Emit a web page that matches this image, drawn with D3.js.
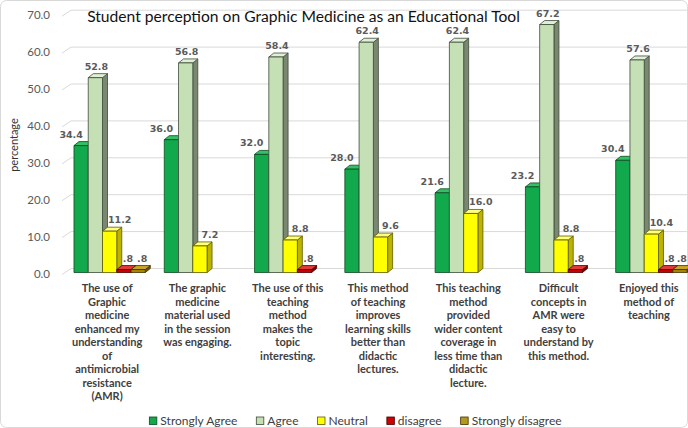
<!DOCTYPE html>
<html><head><meta charset="utf-8">
<script src="https://cdn.jsdelivr.net/npm/d3@7"></script>
<style>body{margin:0;background:#fff}svg{display:block}</style>
</head><body><svg id="c" width="688" height="428"></svg>
<script>
const categories = [
  "The use of Graphic medicine enhanced my understanding of antimicrobial resistance (AMR)",
  "The graphic medicine material used in the session was engaging.",
  "The use of this teaching method makes the topic interesting.",
  "This method of teaching improves learning skills better than didactic lectures.",
  "This teaching method provided wider content coverage in less time than didactic lecture.",
  "Difficult concepts in AMR were easy to understand by this method.",
  "Enjoyed this method of teaching"
];
const categoryLines = [
  ["The use of","Graphic","medicine","enhanced my","understanding","of","antimicrobial","resistance","(AMR)"],
  ["The graphic","medicine","material used","in the session","was engaging."],
  ["The use of this","teaching","method","makes the","topic","interesting."],
  ["This method","of teaching","improves","learning skills","better than","didactic","lectures."],
  ["This teaching","method","provided","wider content","coverage in","less time than","didactic","lecture."],
  ["Difficult","concepts in","AMR were","easy to","understand by","this method."],
  ["Enjoyed this","method of","teaching"]
];
const seriesNames = ["Strongly Agree","Agree","Neutral","disagree","Strongly disagree"];
const stronglyAgree    = [34.4, 36.0, 32.0, 28.0, 21.6, 23.2, 30.4];
const agree            = [52.8, 56.8, 58.4, 62.4, 62.4, 67.2, 57.6];
const neutral          = [11.2, 7.2, 8.8, 9.6, 16.0, 8.8, 10.4];
const disagree         = [0.8, 0, 0.8, 0, 0, 0.8, 0.8];
const stronglyDisagree = [0.8, 0, 0, 0, 0, 0, 0.8];
const yTicks = [0, 10, 20, 30, 40, 50, 60, 70];
const title = "Student perception on Graphic Medicine as an Educational Tool";
const yTitle = "percentage";

const seriesValues = [stronglyAgree, agree, neutral, disagree, stronglyDisagree];
const styles = [
  {front:"#12a84c", side:"#087030", top:"#34c064", stroke:"#0b4a22", legend:"#12a84c", lx:-10},
  {front:"#c6e0b6", side:"#7a8872", top:"#dff0d6", stroke:"#3c4a38", legend:"#c6e0b6", lx:1},
  {front:"#ffff00", side:"#bdb400", top:"#ffff80", stroke:"#5e5a00", legend:"#ffff00", lx:10},
  {front:"#cc0000", side:"#7a0000", top:"#e23a3a", stroke:"#4a0000", legend:"#cc0000", lx:4},
  {front:"#a88600", side:"#6a5400", top:"#c9a428", stroke:"#403200", legend:"#b39a1c", lx:4}
];

const svg = d3.select("#c");
const W = 688, H = 428;
const DX = 5, DY = -4;

svg.append("rect").attr("x",0.5).attr("y",0.5).attr("width",W-1).attr("height",H-1)
  .attr("rx",6).attr("fill","#fff").attr("stroke","#d9d9d9");

const y = d3.scaleLinear().domain([0,70]).range([272.5, 14.2]);
const x0 = d3.scaleBand().domain(categories).range([64.5, 696.5]).paddingInner(0.21).paddingOuter(0.105);
const x1 = d3.scaleBand().domain(seriesNames).range([0, x0.bandwidth()]);

// gridlines (back wall + floor diagonal)
const grid = svg.append("g");
yTicks.forEach(t => {
  const yf = y(t);
  grid.append("path")
    .attr("d", `M62,${yf+2}L71,${yf-4}L688,${yf-4}`)
    .attr("fill","none").attr("stroke","#d9d9d9").attr("stroke-width",1);
});

// y axis labels
const yAxis = d3.axisLeft(y).tickValues(yTicks).tickFormat(d3.format(".1f")).tickSize(0).tickPadding(0);
const ya = svg.append("g").attr("transform","translate(50,1)").call(yAxis);
ya.select(".domain").remove();
ya.selectAll("text").attr("font-family","Lato, sans-serif").attr("font-size","11.5px").attr("fill","#595959");

svg.append("text").attr("transform","translate(13,145) rotate(-90)")
  .attr("text-anchor","middle").attr("dominant-baseline","central")
  .attr("font-family","Lato, sans-serif").attr("font-size","11px").attr("fill","#333").text(yTitle);

// bars
const fmt = v => { const s = d3.format(".1f")(v); return v < 1 ? s.replace(/^0/,"") : s; };
const bars = svg.append("g");
const labels = svg.append("g");
categories.forEach((c, ci) => {
  seriesNames.forEach((s, si) => {
    const v = seriesValues[si][ci];
    if (!v) return;
    const st = styles[si];
    const xa = x0(c) + x1(s), xb = xa + x1.bandwidth();
    const yt = y(v), yb = y(0);
    const g = bars.append("g").attr("stroke", st.stroke).attr("stroke-width",0.8).attr("stroke-linejoin","round");
    g.append("path").attr("fill", st.side)
      .attr("d", `M${xb},${yt}L${xb+DX},${yt+DY}L${xb+DX},${yb+DY}L${xb},${yb}Z`);
    g.append("path").attr("fill", st.top)
      .attr("d", `M${xa},${yt}L${xa+DX},${yt+DY}L${xb+DX},${yt+DY}L${xb},${yt}Z`);
    g.append("rect").attr("fill", st.front).attr("x", xa).attr("y", yt).attr("width", xb-xa).attr("height", yb-yt);
    const lt = labels.append("text")
      .attr("x", (xa+xb)/2 + st.lx).attr("y", yt - 11.5)
      .attr("text-anchor","middle").attr("dominant-baseline","central")
      .attr("font-family","DejaVu Sans, sans-serif").attr("font-weight","bold")
      .attr("font-size","9.5px").attr("fill","#5a5a5a").text(fmt(v));
    const hw = lt.node().getComputedTextLength()/2;
    const lxv = +lt.attr("x");
    if (lxv + hw > W - 1) lt.attr("x", W - 1 - hw);
  });
  // category label
  const cx = x0(c) + x0.bandwidth()/2 - 2.5;
  const t = svg.append("text").attr("text-anchor","middle")
    .attr("font-family","Lato, sans-serif").attr("font-weight","bold")
    .attr("font-size","11px").attr("fill","#404040");
  categoryLines[ci].forEach((ln, li) => {
    t.append("tspan").attr("x", cx).attr("y", 292 + li*13.5).text(ln);
  });
});

// title
const tt = svg.append("text").attr("x", 303.5).attr("y", 22).attr("text-anchor","middle")
  .attr("font-family","Lato, sans-serif").attr("font-weight","normal").attr("font-size","14px")
  .attr("fill","#111").text(title);
{
  const w = tt.node().getComputedTextLength();
  tt.attr("font-size", (14*433/w).toFixed(2)+"px");
}

// legend
const lg = svg.append("g");
let lx = 0;
seriesNames.forEach((s, si) => {
  const g = lg.append("g");
  g.append("rect").attr("x", lx).attr("y", -3.5).attr("width", 7.5).attr("height", 7.5)
    .attr("fill", styles[si].legend).attr("stroke", styles[si].stroke).attr("stroke-width",0.8);
  const tx = g.append("text").attr("x", lx + 11).attr("y", 0).attr("dominant-baseline","central")
    .attr("font-family","Lato, sans-serif").attr("font-size","12px").attr("fill","#404040").text(s);
  lx += 11 + tx.node().getComputedTextLength() + 19;
});
const total = lx - 19;
lg.attr("transform", `translate(${355.5 - total/2},420.5)`);
</script></body></html>
